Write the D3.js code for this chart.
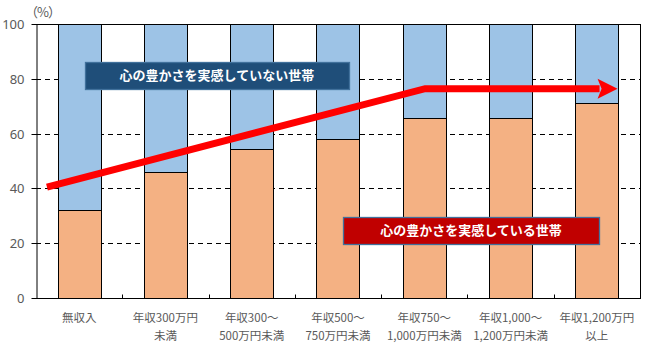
<!DOCTYPE html>
<html><head><meta charset="utf-8">
<script src="https://cdn.jsdelivr.net/npm/d3@7"></script>
<style>
html,body{margin:0;padding:0;background:#fff;}
svg text{font-family:"Noto Sans CJK JP","Noto Sans",sans-serif;}
</style></head>
<body>
<svg id="chart" width="654" height="351"></svg>
<script>
const categories = ["無収入","年収300万円\n未満","年収300～\n500万円未満","年収500～\n750万円未満","年収750～\n1,000万円未満","年収1,000～\n1,200万円未満","年収1,200万円\n以上"];
const feelValues = [32, 46, 54.3, 58, 65.6, 65.6, 71];
const notFeelValues = feelValues.map(v => 100 - v);
const yTicks = [0, 20, 40, 60, 80, 100];
const arrowX = [0.127, 4.51, 6.74];   // position in category units
const arrowY = [40.5, 76.4, 76.4];    // %
const labelNotFeel = "心の豊かさを実感していない世帯";
const labelFeel = "心の豊かさを実感している世帯";

const svg = d3.select("#chart");
const m = {l:36, r:14, t:24, b:53};
const W = 654, H = 351;
const x = d3.scaleBand().domain(categories).range([m.l, W - m.r]).paddingInner(0.5).paddingOuter(0.25);
const xc = d3.scaleLinear().domain([0, categories.length]).range([m.l, W - m.r]);
const y = d3.scaleLinear().domain([0, 100]).range([H - m.b, m.t]);

// gridlines
svg.append("g").selectAll("line").data(yTicks.filter(t => t > 0 && t < 100)).join("line")
  .attr("x1", m.l).attr("x2", W - m.r)
  .attr("y1", d => Math.round(y(d)) + 0.5).attr("y2", d => Math.round(y(d)) + 0.5)
  .attr("stroke", "#000").attr("stroke-width", 1).attr("stroke-dasharray", "5,4");

// bars
const bars = svg.append("g");
categories.forEach((c, i) => {
  const x0 = Math.round(x(c)) + 0.5, w = Math.round(x.bandwidth());
  bars.append("rect").attr("x", x0).attr("width", w)
    .attr("y", Math.round(y(100)) + 0.5).attr("height", Math.round(y(feelValues[i])) - Math.round(y(100)))
    .attr("fill", "#9dc3e6").attr("stroke", "#000").attr("stroke-width", 1);
  bars.append("rect").attr("x", x0).attr("width", w)
    .attr("y", Math.round(y(feelValues[i])) + 0.5).attr("height", Math.round(y(0)) - Math.round(y(feelValues[i])))
    .attr("fill", "#f4b183").attr("stroke", "#000").attr("stroke-width", 1);
});

// frame: top and right
svg.append("line").attr("x1", m.l).attr("x2", W - m.r + 0.5).attr("y1", Math.round(y(100)) + 0.5).attr("y2", Math.round(y(100)) + 0.5).attr("stroke", "#000");
svg.append("line").attr("x1", W - m.r + 0.5).attr("x2", W - m.r + 0.5).attr("y1", Math.round(y(100))).attr("y2", Math.round(y(0)) + 1).attr("stroke", "#000");

// y axis
const yAxis = svg.append("g").attr("transform", `translate(${m.l + 0.5},0)`)
  .call(d3.axisLeft(y).tickValues(yTicks).tickSize(5).tickSizeOuter(0).tickPadding(7));
yAxis.select(".domain").attr("stroke", "#000");
yAxis.selectAll(".tick line").attr("stroke", "#000");
yAxis.selectAll(".tick text").attr("fill", "#595959").style("font-size", "13px").style("font-family", "'Noto Sans','DejaVu Sans',sans-serif");
yAxis.selectAll(".tick").attr("transform", d => `translate(0,${Math.round(y(d)) + 0.5})`);

// x axis
const xAxisY = Math.round(y(0)) + 0.5;
svg.append("line").attr("x1", m.l).attr("x2", W - m.r + 0.5).attr("y1", xAxisY).attr("y2", xAxisY).attr("stroke", "#000");
svg.append("g").selectAll("line").data(d3.range(1, categories.length)).join("line")
  .attr("x1", d => Math.round(xc(d)) + 0.5).attr("x2", d => Math.round(xc(d)) + 0.5)
  .attr("y1", xAxisY).attr("y2", xAxisY - 4).attr("stroke", "#000");
const xl = svg.append("g");
categories.forEach(c => {
  const lines = c.split("\n");
  const t = xl.append("text").attr("x", x(c) + x.bandwidth() / 2).attr("y", 322)
    .attr("text-anchor", "middle").attr("fill", "#595959").style("font-size", "11.5px");
  lines.forEach((ln, j) => t.append("tspan").attr("x", x(c) + x.bandwidth() / 2).attr("dy", j === 0 ? 0 : 18).text(ln));
});

// (%)
svg.append("text").attr("x", 25).attr("y", 17).attr("fill", "#595959")
  .style("font-size", "13px").style("letter-spacing", "-1px").text("（%）");

// arrow
const pts = arrowX.map((v, i) => [xc(v), y(arrowY[i])]);
const last = pts[pts.length - 1];
const headLen = 20;
const lineEnd = [last[0] - headLen + 2, last[1]];
svg.append("path").attr("d", d3.line()([pts[0], pts[1], lineEnd]))
  .attr("fill", "none").attr("stroke", "#ff0000").attr("stroke-width", 7).attr("stroke-linejoin", "miter");
svg.append("path").attr("d", d3.line()([[last[0], last[1]], [last[0] - headLen, last[1] - 10], [last[0] - headLen + 4, last[1]], [last[0] - headLen, last[1] + 10]]) + "Z")
  .attr("fill", "#ff0000");

// label boxes
function box(text, cx0, cx1, v0, v1, fill) {
  const x0 = xc(cx0), x1 = xc(cx1), y0 = y(v0), y1 = y(v1);
  svg.append("rect").attr("x", Math.round(x0) + 0.5).attr("y", Math.round(y0) + 0.5)
    .attr("width", Math.round(x1 - x0)).attr("height", Math.round(y1 - y0))
    .attr("fill", fill).attr("stroke", "#41719c").attr("stroke-width", 1.3);
  svg.append("text").attr("x", (x0 + x1) / 2).attr("y", (y0 + y1) / 2 + 4.5)
    .attr("text-anchor", "middle").attr("fill", "#fff").style("font-size", "13px").style("font-weight", "bold").text(text);
}
box(labelNotFeel, 0.567, 3.626, 86.1, 76.3, "#1f4e79");
box(labelFeel, 3.557, 6.525, 29.6, 19.7, "#c00000");
</script>
</body></html>
